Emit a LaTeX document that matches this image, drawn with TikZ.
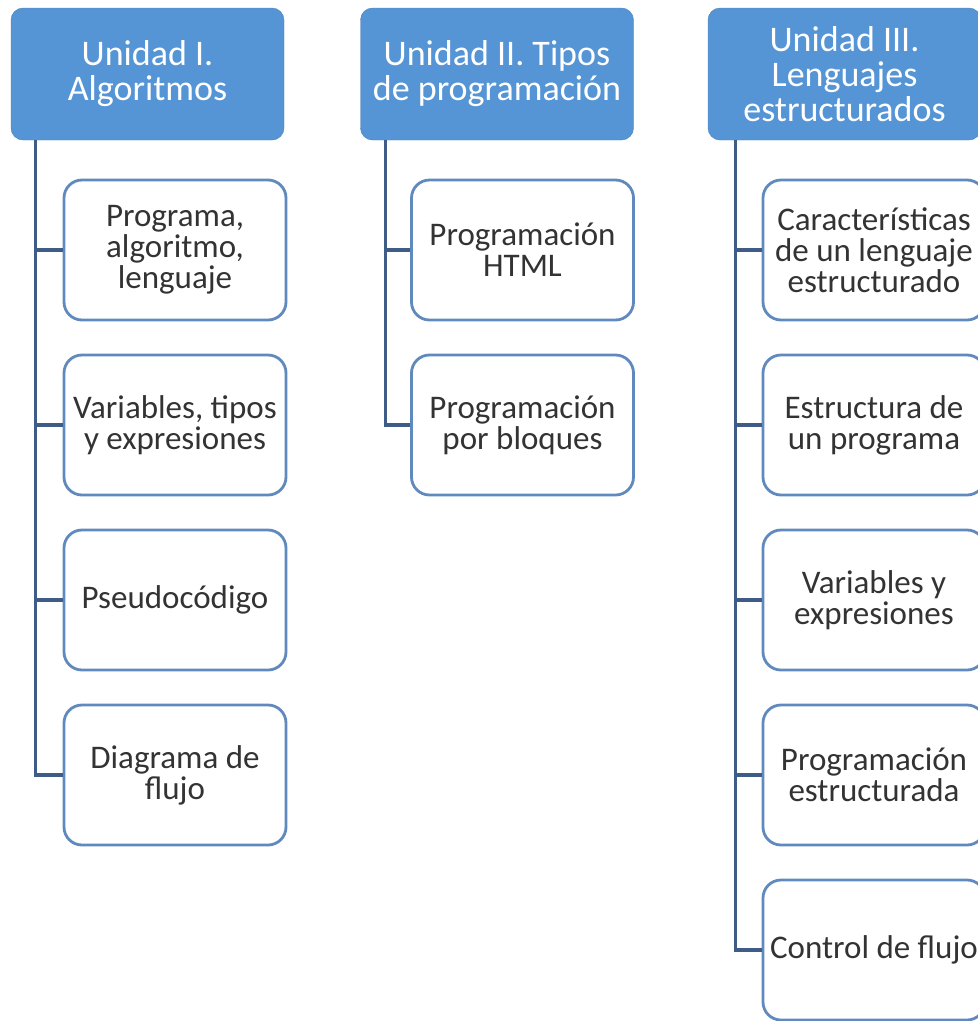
\documentclass[tikz,border=0pt]{standalone}
\usepackage{fontspec}
\setmainfont{Carlito}
\usetikzlibrary{positioning}
\definecolor{cabeza}{RGB}{86,149,213}
\definecolor{borde}{RGB}{96,137,190}
\definecolor{linea}{RGB}{62,92,134}
\begin{document}
\begin{tikzpicture}[x=1pt, y=-1pt,
  unidad/.style={draw=cabeza!85!black, fill=cabeza, rounded corners=12pt,
    minimum width=273pt, minimum height=132pt, inner sep=0pt, align=center,
    text=white, font=\fontsize{36}{35}\selectfont},
  tema/.style={draw=borde, line width=2.8pt, fill=white, rounded corners=18pt,
    minimum width=222pt, minimum height=140pt, inner sep=0pt, align=center,
    text=black!80, font=\fontsize{33}{31}\selectfont},
  rama/.style={draw=linea, line width=3.2pt}]
  \useasboundingbox (0,0) rectangle (978,1021);
  \clip (0,0) rectangle (978,1021);
  % Unidad I
  \node[unidad] (u1) at (147.5,74) {Unidad I.\\Algoritmos};
  \node[tema] (t11) at (175,250) {Programa,\\algoritmo,\\lenguaje};
  \node[tema] (t12) at (175,425) {Variables, tipos\\y expresiones};
  \node[tema] (t13) at (175,600) {Pseudocódigo};
  \node[tema] (t14) at (175,775) {Diagrama de\\flujo};
  \coordinate (r1) at ([xshift=25pt]u1.south west);
  \draw[rama] (r1) |- (t14.west);
  \foreach \i in {1,2,3}
    \draw[rama] (r1 |- t1\i.west) -- (t1\i.west);
  % Unidad II
  \node[unidad] (u2) at (497,74) {Unidad II. Tipos\\de programación};
  \node[tema] (t21) at (522.5,250) {Programación\\HTML};
  \node[tema] (t22) at (522.5,425) {Programación\\por bloques};
  \coordinate (r2) at ([xshift=25pt]u2.south west);
  \draw[rama] (r2) |- (t22.west);
  \draw[rama] (r2 |- t21.west) -- (t21.west);
  % Unidad III
  \node[unidad] (u3) at (844.5,74) {Unidad III.\\Lenguajes\\estructurados};
  \node[tema] (t31) at (874,250) {Características\\de un lenguaje\\estructurado};
  \node[tema] (t32) at (874,425) {Estructura de\\un programa};
  \node[tema] (t33) at (874,600) {Variables y\\expresiones};
  \node[tema] (t34) at (874,775) {Programación\\estructurada};
  \node[tema] (t35) at (874,950) {Control de flujo};
  \coordinate (r3) at ([xshift=28pt]u3.south west);
  \draw[rama] (r3) |- (t35.west);
  \foreach \i in {1,2,3,4}
    \draw[rama] (r3 |- t3\i.west) -- (t3\i.west);
\end{tikzpicture}
\end{document}
